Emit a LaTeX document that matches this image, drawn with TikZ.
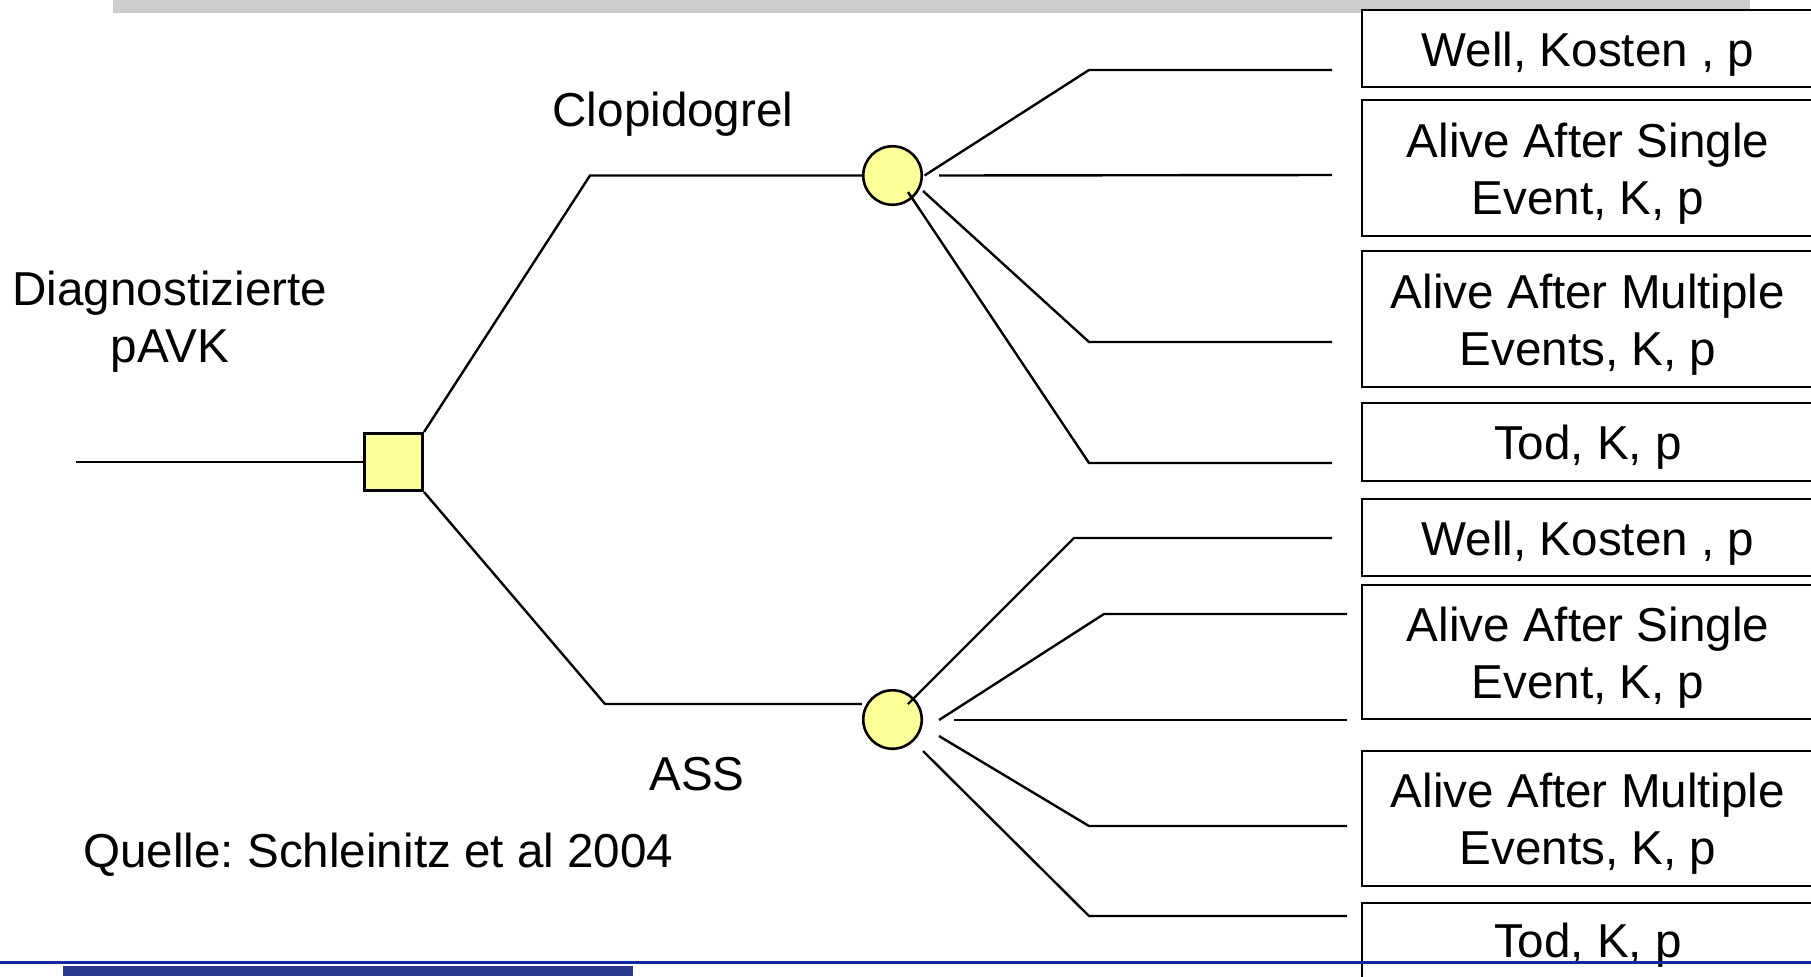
\documentclass[tikz,border=0pt]{standalone}
\usepackage{fontspec}
\setmainfont{Liberation Sans}
\frenchspacing
\definecolor{nodeyellow}{RGB}{255,255,153}
\definecolor{bargray}{RGB}{204,204,204}
\definecolor{footblue}{RGB}{16,40,160}
\definecolor{footnavy}{RGB}{42,58,140}
\begin{document}
\begin{tikzpicture}[x=0.5pt,y=-0.5pt,
  every node/.style={font=\fontsize{23.8}{28.6}\selectfont, inner sep=0pt},
  tree/.style={line width=1.2pt, draw=black},
  outbox/.style={rectangle, draw=black, line width=1.2pt, fill=white, minimum width=226pt},
  chance/.style={circle, draw=black, line width=1.3pt, fill=nodeyellow, minimum size=29.25pt},
  decision/.style={rectangle, draw=black, line width=1.3pt, fill=nodeyellow, minimum width=29.25pt, minimum height=28.75pt},
  lbl/.style={align=center}]
\useasboundingbox (0,0) rectangle (1811,976);
\clip (0,0) rectangle (1811,976);
% top gray bar
\fill[bargray] (113,0) rectangle (1750,13);
% outcome boxes
\node[outbox, minimum height=38.5pt] (o1) at (1588,48.5) {};
\node[outbox, minimum height=68pt]   (o2) at (1588,168) {};
\node[outbox, minimum height=68pt]   (o3) at (1588,319) {};
\node[outbox, minimum height=39pt]   (o4) at (1588,442) {};
\node[outbox, minimum height=38.5pt] (o5) at (1588,537.5) {};
\node[outbox, minimum height=67pt]   (o6) at (1588,652) {};
\node[outbox, minimum height=67.5pt] (o7) at (1588,818.5) {};
\node[outbox, minimum height=39pt]   (o8) at (1588,942) {};
\node[lbl] (t1) at ([yshift=-2.75pt]o1.center) {Well, Kosten , p};
\node[lbl] (t2) at ([yshift=-2.75pt]o2.center) {Alive After Single\\Event, K, p};
\node[lbl] (t3) at ([yshift=-2.75pt]o3.center) {Alive After Multiple\\Events, K, p};
\node[lbl] (t4) at ([yshift=-2.75pt]o4.center) {Tod, K, p};
\node[lbl] (t5) at ([yshift=-2.75pt]o5.center) {Well, Kosten , p};
\node[lbl] (t6) at ([yshift=-2.75pt]o6.center) {Alive After Single\\Event, K, p};
\node[lbl] (t7) at ([yshift=-2.75pt]o7.center) {Alive After Multiple\\Events, K, p};
\node[lbl] (t8) at ([yshift=-1.75pt]o8.center) {Tod, K, p};
% labels
\node[lbl] (diag) at (170,322) {Diagnostizierte\\pAVK};
\node[anchor=base] (clop) at (673,126) {Clopidogrel};
\node[anchor=base] (ass) at (697,790) {ASS};
\node[anchor=base west] (src) at (83,867) {Quelle: Schleinitz et al 2004};
% tree nodes
\coordinate (root) at (76,462);
\node[decision] (dec) at (393.5,462) {};
\node[chance] (c1) at (892.5,175.5) {};
\node[chance] (c2) at (892.5,719.5) {};
\coordinate (k1) at (590,175.5);
\coordinate (k2) at (605,704);
\draw[tree] (root) -- (dec.west);
\draw[tree] (dec.north east) -- (k1) -- (c1.west);
\draw[tree] (dec.south east) -- (k2) -- (k2 -| c2.west);
% upper chance branches
\coordinate (u1) at (1332,70);
\coordinate (u2) at (1332,175);
\coordinate (u3) at (1332,342);
\coordinate (u4) at (1332,463);
\draw[tree] ([shift={(32,0)}]c1.center) -- (1089,70) -- (u1);
\draw[tree] ([shift={(46.5,0)}]c1.center) -- (u2);
\draw[tree] ([shift={(30.5,15.5)}]c1.center) -- (1089,342) -- (u3);
\draw[tree] ([shift={(15.5,16.5)}]c1.center) -- (1089,463) -- (u4);
% lower chance branches
\coordinate (l1) at (1332,538);
\coordinate (l2) at (1347,614);
\coordinate (l3) at (1347,720);
\coordinate (l4) at (1347,826);
\coordinate (l5) at (1347,916);
\draw[tree] ([shift={(15.5,-15.5)}]c2.center) -- (1074,538) -- (l1);
\draw[tree] ([shift={(46.5,0.5)}]c2.center) -- (1104,614) -- (l2);
\draw[tree] ([shift={(61.5,0.5)}]c2.center) -- (l3);
\draw[tree] ([shift={(46.5,16.5)}]c2.center) -- (1089,826) -- (l4);
\draw[tree] ([shift={(30.5,31.5)}]c2.center) -- (1089,916) -- (l5);
% footer
\draw[footblue, line width=1.5pt] (0,962) -- (1811,962);
\fill[footnavy] (63,966) rectangle (633,976);
\end{tikzpicture}
\end{document}
